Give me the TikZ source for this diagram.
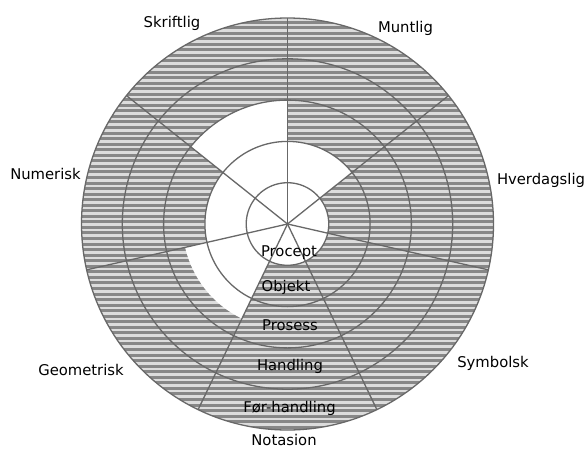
\documentclass[tikz,border=0pt]{standalone}
\usepackage{fontspec}
\setmainfont{DejaVu Sans}
\definecolor{sdark}{HTML}{878787}
\definecolor{slight}{HTML}{DCDCDC}
\definecolor{gline}{HTML}{686868}
\begin{document}
\begin{tikzpicture}[x=1pt,y=1pt,
  lbl/.style={font=\fontsize{14.8}{17}\selectfont, inner sep=0pt, anchor=base, text=black},
  ring/.style={draw=gline, line width=1.3pt},
  spoke/.style={draw=gline, line width=1.3pt}]
\useasboundingbox (0,-450) rectangle (587,0);
\coordinate (O) at (287.5,-224);
\def\R{206}
% striped disk
\begin{scope}
  \clip (O) circle[radius=\R];
  \fill[slight] (O) circle[radius=\R];
  \foreach \k in {0,...,76}
    \fill[sdark] (80,{-15-\k*5.55}) rectangle (496,{-15-\k*5.55-3.0});
\end{scope}
% white (unshaded) sectors
\foreach \a/\b/\r in {38.571/90/82.6, 90/141.429/123.9, 141.429/192.857/82.6,
                       192.857/244.286/105, 244.286/295.714/41.3,
                       295.714/347.143/41.3, 347.143/398.571/41.3}
  \fill[white] (O) -- ++(\a:\r) arc[start angle=\a, end angle=\b, radius=\r] -- cycle;
% rings
\foreach \r in {41.3,82.6,123.9,165.2,206}
  \draw[ring] (O) circle[radius=\r];
% spokes
\foreach \i in {0,...,6}{
  \path (O) ++({90-\i*360/7}:\R) coordinate (S\i);
  \draw[spoke] (O) -- (S\i);
}
% outer labels
\node[lbl] (skr) at (172,-27) {Skriftlig};
\node[lbl] (mun) at (405.5,-32) {Muntlig};
\node[lbl] (num) at (45.5,-179) {Numerisk};
\node[lbl] (hve) at (541,-184) {Hverdagslig};
\node[lbl] (sym) at (493,-367) {Symbolsk};
\node[lbl] (geo) at (81,-375) {Geometrisk};
\node[lbl] (not) at (284,-445.5) {Notasion};
% inner labels
\node[lbl] (pce) at (289,-256) {Procept};
\node[lbl] (obj) at (286,-291.5) {Objekt};
\node[lbl] (pro) at (290,-330) {Prosess};
\node[lbl] (han) at (290,-370.5) {Handling};
\node[lbl] (foh) at (289.5,-412.5) {Før-handling};
\end{tikzpicture}
\end{document}
